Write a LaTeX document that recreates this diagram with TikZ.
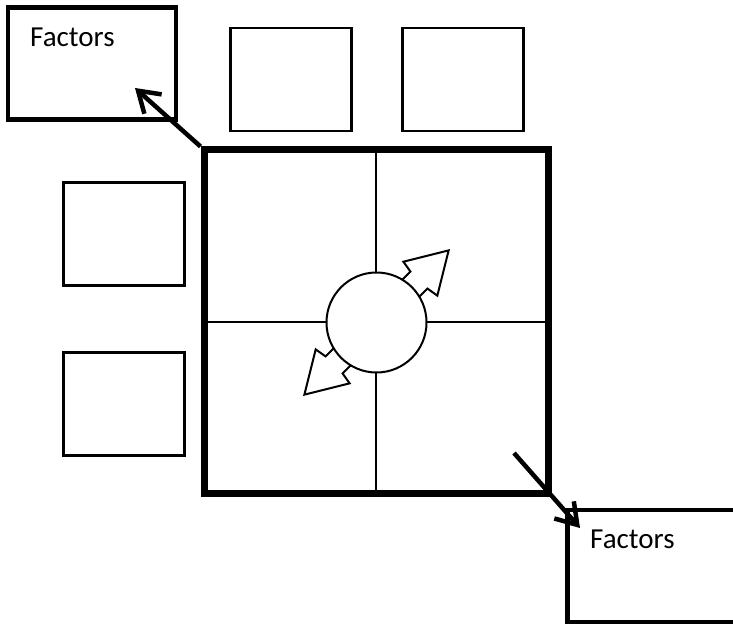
\documentclass[tikz,border=0pt]{standalone}
\usepackage{fontspec}
\setmainfont{Carlito}
\usetikzlibrary{arrows.meta}
\tikzset{
  factorbox/.style={draw, line width=4.5pt, minimum width=168pt, minimum height=112pt, inner sep=0pt},
  emptybox/.style={draw, line width=2.5pt, minimum width=121pt, minimum height=103pt, inner sep=0pt},
  gridbox/.style={draw, line width=7pt, minimum width=344pt, minimum height=343pt, inner sep=0pt},
  divider/.style={line width=2pt},
  hub/.style={draw, circle, fill=white, line width=2pt, minimum size=100pt, inner sep=0pt},
  blockarrow/.style={draw, fill=white, line width=2pt, line join=miter},
  factorlink/.style={line width=4.5pt, -{Straight Barb[length=20pt,width=26pt,line width=4.5pt]}},
  label/.style={font=\fontsize{29}{35}\selectfont, inner sep=0pt, anchor=base west}
}
\begin{document}
\begin{tikzpicture}[x=1pt,y=-1pt]
  \useasboundingbox (0,0) rectangle (733,628);
  \clip (0,0) rectangle (733,628);

  % central grid split into four quadrants
  \node[gridbox] (grid) at (376,321.5) {};
  \draw[divider] (grid.north) -- (grid.south);
  \draw[divider] (grid.west) -- (grid.east);

  % empty boxes around the grid
  \node[emptybox] (top1) at (290.75,79.75) {};
  \node[emptybox] (top2) at (462.75,79.75) {};
  \node[emptybox] (left1) at (124,234) {};
  \node[emptybox] (left2) at (124,404) {};

  % factor boxes
  \node[factorbox] (factA) at (92,63.75) {};
  \node[label] (factAtext) at (30,47) {Factors};
  \node[factorbox] (factB) at (651.5,565.75) {};
  \node[label] (factBtext) at (590,548) {Factors};

  % two-way block arrows leaving the hub
  \begin{scope}[shift={(376.5,322.5)}, rotate=45]
    \draw[blockarrow] (38,12) -- (60,12) -- (62,24) -- (102,0) -- (62,-24) -- (60,-12) -- (38,-12) -- cycle;
  \end{scope}
  \begin{scope}[shift={(376.5,322.5)}, rotate=225]
    \draw[blockarrow] (38,12) -- (60,12) -- (62,24) -- (102,0) -- (62,-24) -- (60,-12) -- (38,-12) -- cycle;
  \end{scope}
  \node[hub] (hub) at (376.5,322.5) {};

  % links to the factor boxes
  \coordinate (tipA) at (135,88);
  \coordinate (startB) at (514,453);
  \coordinate (tipB) at (580,528);
  \draw[factorlink] (grid.north west) -- (tipA);
  \draw[factorlink] (startB) -- (tipB);
\end{tikzpicture}
\end{document}
